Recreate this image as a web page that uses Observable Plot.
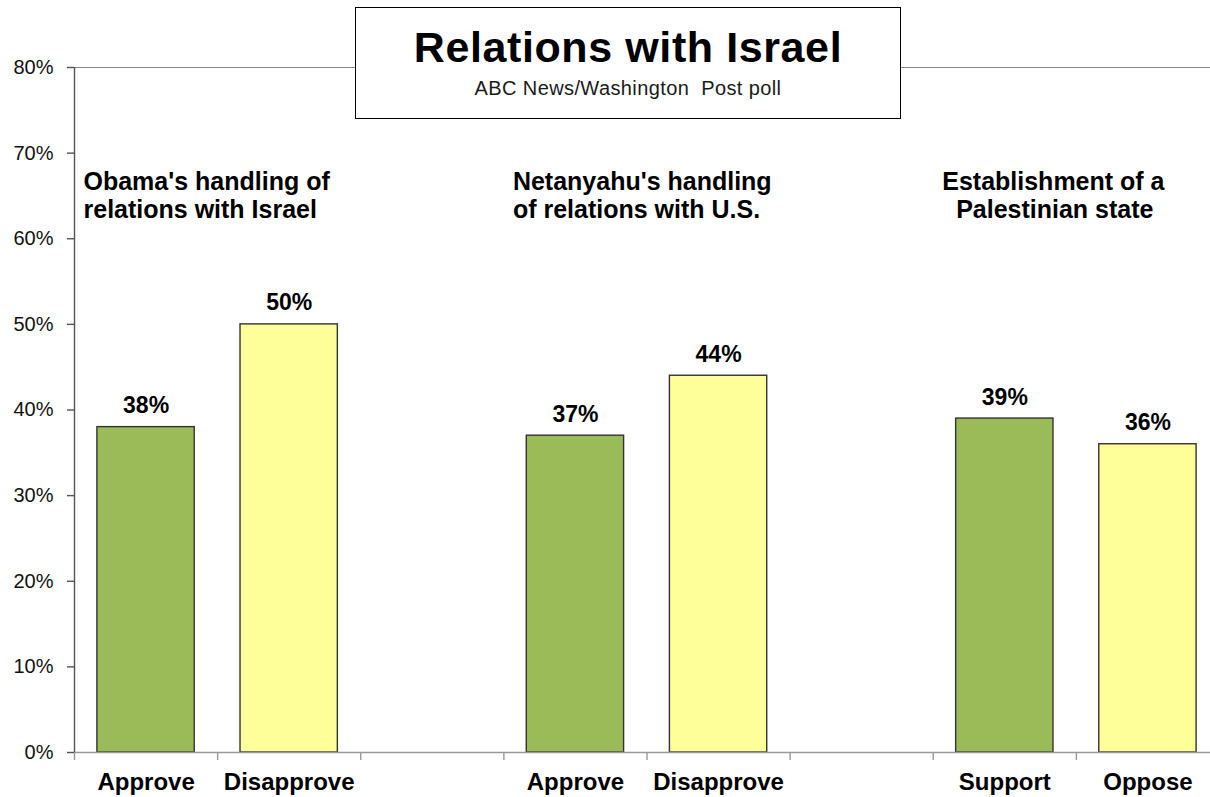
<!DOCTYPE html>
<html>
<head>
<meta charset="utf-8">
<script src="https://cdn.jsdelivr.net/npm/d3@7"></script>
<script src="https://cdn.jsdelivr.net/npm/@observablehq/plot@0.6"></script>
<style>
  body { margin: 0; background: #fff; font-family: "Liberation Sans", Arial, sans-serif; }
  #wrap { position: relative; width: 1210px; height: 797px; overflow: hidden; }
  #titlebox {
    position: absolute; left: 355px; top: 7px; width: 546px; height: 112px;
    box-sizing: border-box; border: 1.5px solid #000; background: #fff;
  }
  #title {
    position: absolute; left: 0; right: 0; top: 18px; text-align: center;
    font-size: 43px; line-height: 43px; font-weight: bold; color: #000; letter-spacing: 0.6px;
  }
  #subtitle {
    position: absolute; left: 0; right: 0; top: 70px; text-align: center;
    font-size: 20px; line-height: 20px; color: #1a1a1a; white-space: pre; letter-spacing: 0.4px;
  }
  g[aria-label="group-title"] text { letter-spacing: 0.6px; }
  g[aria-label="category-label"] text { letter-spacing: 1.6px; }
  g[aria-label="value-label"] text { letter-spacing: 0.6px; }
</style>
</head>
<body>
<div id="wrap">
  <div id="chart"></div>
  <div id="titlebox">
    <div id="title">Relations with Israel</div>
    <div id="subtitle">ABC News/Washington  Post poll</div>
  </div>
</div>
<script>
// ---- data ----
const groupTitles = [
  "Obama's handling of\nrelations with Israel",
  "Netanyahu's handling\nof relations with U.S.",
  "Establishment of a\n\u00a0\u00a0Palestinian state"
];
const responses = ["Approve", "Disapprove", "Approve", "Disapprove", "Support", "Oppose"];
const responseGroup = [0, 0, 1, 1, 2, 2];
const values = [38, 50, 37, 44, 39, 36];
const yTicks = [0, 10, 20, 30, 40, 50, 60, 70, 80];

const green = "#9BBB59";
const yellow = "#FFFF99";

// each group takes three slots (two bars + one blank)
const rows = responses.map((r, i) => ({
  response: r,
  value: values[i],
  kind: i % 2,
  slot: responseGroup[i] * 3 + (i % 2)
}));
const groups = groupTitles.map((t, i) => ({title: t, slot: i * 3}));
const slotBoundaries = d3.range(0, 9);

const chart = Plot.plot({
  width: 1210,
  height: 797,
  marginLeft: 74,
  marginRight: 0,
  marginTop: 67,
  marginBottom: 45,
  style: {fontFamily: "Liberation Sans, Arial, sans-serif", fontSize: "19px", color: "#111", background: "#fff"},
  x: {type: "linear", domain: [0, 8], range: [74, 1219], axis: null, label: null},
  y: {domain: [0, 80], range: [752, 67], axis: null, label: null},
  marks: [
    Plot.ruleY([80], {stroke: "#8a8a8a", strokeWidth: 1.2}),
    Plot.rectY(rows, {
      x1: d => d.slot + 0.16,
      x2: d => d.slot + 0.84,
      y1: 0,
      y2: "value",
      fill: d => d.kind === 0 ? green : yellow,
      stroke: "#333",
      strokeWidth: 1.4
    }),
    Plot.ruleY([0], {stroke: "#9a9a9a", strokeWidth: 1.6}),
    Plot.axisX({ticks: slotBoundaries, tickFormat: () => "", tickSize: 8, stroke: "#9a9a9a", strokeWidth: 1.4, label: null}),
    Plot.ruleX([0], {stroke: "#555", strokeWidth: 1.4}),
    Plot.axisY({ticks: yTicks, tickFormat: d => d + "%", tickSize: 7, tickPadding: 14, fontSize: 20, stroke: "#555", strokeWidth: 1.4, fill: "#111", label: null}),
    Plot.text(rows, {
      x: d => d.slot + 0.5,
      y: "value",
      text: d => d.value + "%",
      lineAnchor: "bottom",
      dy: -14,
      fontSize: 23,
      fontWeight: "bold",
      fill: "#000",
      ariaLabel: "value-label"
    }),
    Plot.text(rows, {
      x: d => d.slot + 0.5,
      y: 0,
      text: "response",
      lineAnchor: "bottom",
      dy: 37,
      fontSize: 24,
      fontWeight: "bold",
      fill: "#000",
      ariaLabel: "category-label"
    }),
    Plot.text(groups, {
      x: "slot",
      frameAnchor: "top",
      text: "title",
      textAnchor: "start",
      lineAnchor: "top",
      lineHeight: 1.14,
      dx: 9,
      dy: 102,
      fontSize: 25,
      fontWeight: "bold",
      fill: "#000",
      ariaLabel: "group-title"
    })
  ]
});
document.getElementById("chart").appendChild(chart);
</script>
</body>
</html>
